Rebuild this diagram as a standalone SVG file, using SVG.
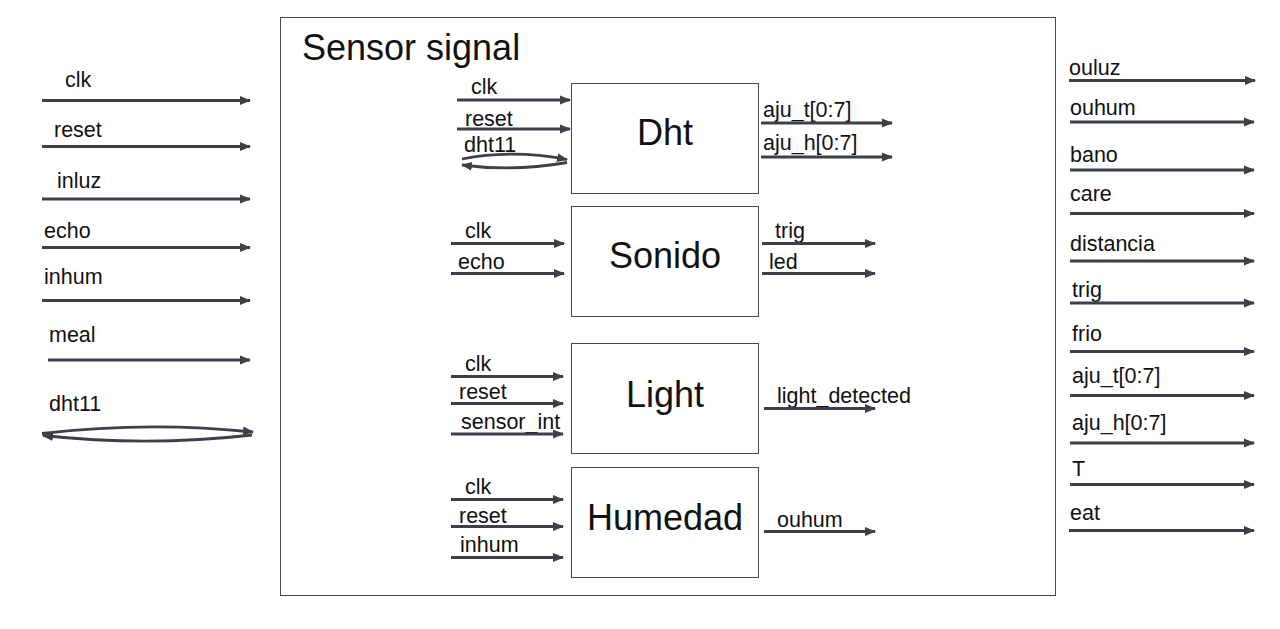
<svg xmlns="http://www.w3.org/2000/svg" width="1280" height="629" viewBox="0 0 1280 629">
<defs>
<marker id="ah" markerUnits="userSpaceOnUse" markerWidth="11" markerHeight="10" refX="10" refY="5" orient="auto">
<path d="M0,0.5 L11,5 L0,9.5 Z" fill="#3b4049"/>
</marker>
<style>
.w{stroke:#3b4049;stroke-width:2.8;fill:none;marker-end:url(#ah)}
.t{font-family:"Liberation Sans",Arial,sans-serif;font-size:21.5px;fill:#111}
.b{fill:#fff;stroke:#4a4a4a;stroke-width:1}
.bt{font-family:"Liberation Sans",Arial,sans-serif;font-size:36px;fill:#111;text-anchor:middle}
</style>
</defs>
<rect width="1280" height="629" fill="#fff"/>
<g id="sensor_signal">
<rect x="280.5" y="17.5" width="775" height="578" class="b"/>
<text x="302" y="60" font-family="Liberation Sans, Arial, sans-serif" font-size="36" fill="#111">Sensor signal</text>
</g>
<g id="dht">
<rect x="571.5" y="83.5" width="187" height="110" class="b"/>
<text x="665" y="145" class="bt">Dht</text>
</g>
<g id="sonido">
<rect x="571.5" y="206.5" width="187" height="110" class="b"/>
<text x="665" y="268" class="bt">Sonido</text>
</g>
<g id="light">
<rect x="571.5" y="343.5" width="187" height="110" class="b"/>
<text x="665" y="407" class="bt">Light</text>
</g>
<g id="humedad">
<rect x="571.5" y="467.5" width="187" height="110" class="b"/>
<text x="665" y="530" class="bt">Humedad</text>
</g>
<g id="labels">
<text x="65" y="87" class="t">clk</text>
<text x="54" y="137" class="t">reset</text>
<text x="57" y="188" class="t">inluz</text>
<text x="44" y="238" class="t">echo</text>
<text x="44" y="284" class="t">inhum</text>
<text x="49" y="342" class="t">meal</text>
<text x="49" y="411" class="t">dht11</text>
<text x="471" y="94" class="t">clk</text>
<text x="465" y="126" class="t">reset</text>
<text x="464" y="152" class="t">dht11</text>
<text x="763" y="117" class="t">aju_t[0:7]</text>
<text x="763" y="150" class="t">aju_h[0:7]</text>
<text x="465" y="238" class="t">clk</text>
<text x="458" y="269" class="t">echo</text>
<text x="775" y="238" class="t">trig</text>
<text x="769" y="269" class="t">led</text>
<text x="465" y="371" class="t">clk</text>
<text x="459" y="399" class="t">reset</text>
<text x="461" y="429" class="t">sensor_int</text>
<text x="777" y="403" class="t">light_detected</text>
<text x="465" y="494" class="t">clk</text>
<text x="459" y="523" class="t">reset</text>
<text x="460" y="552" class="t">inhum</text>
<text x="777" y="527" class="t">ouhum</text>
<text x="1069" y="75" class="t">ouluz</text>
<text x="1070" y="115" class="t">ouhum</text>
<text x="1070" y="162" class="t">bano</text>
<text x="1070" y="201" class="t">care</text>
<text x="1070" y="251" class="t">distancia</text>
<text x="1072" y="297" class="t">trig</text>
<text x="1072" y="341" class="t">frio</text>
<text x="1072" y="383" class="t">aju_t[0:7]</text>
<text x="1072" y="430" class="t">aju_h[0:7]</text>
<text x="1072" y="476" class="t">T</text>
<text x="1070" y="520" class="t">eat</text>
</g>
<g id="connectors">
<path class="w" d="M42,100.5 H250"/>
<path class="w" d="M42,146.5 H250"/>
<path class="w" d="M42,199 H250"/>
<path class="w" d="M42,247.5 H250"/>
<path class="w" d="M42,300.5 H250"/>
<path class="w" d="M48,360 H250"/>
<path class="w" d="M42,433.5 Q148,421 253,432"/>
<path class="w" d="M252,435 Q148,447 43,435.5"/>
<path class="w" d="M457,100 H570"/>
<path class="w" d="M457,129 H570"/>
<path class="w" d="M462,159 Q513,149 567,159.5"/>
<path class="w" d="M567,162.5 Q513,172 462,165"/>
<path class="w" d="M761,123 H892"/>
<path class="w" d="M761,157 H892"/>
<path class="w" d="M451,243.5 H564"/>
<path class="w" d="M451,273.5 H564"/>
<path class="w" d="M762,243.5 H875"/>
<path class="w" d="M762,273.5 H875"/>
<path class="w" d="M451,376.5 H563"/>
<path class="w" d="M451,403.5 H563"/>
<path class="w" d="M451,434 H563"/>
<path class="w" d="M764,408.5 H875"/>
<path class="w" d="M451,499.5 H563"/>
<path class="w" d="M451,526.5 H563"/>
<path class="w" d="M451,557.5 H563"/>
<path class="w" d="M764,531.5 H875"/>
<path class="w" d="M1069,80.5 H1255"/>
<path class="w" d="M1070,122 H1254"/>
<path class="w" d="M1070,170 H1254"/>
<path class="w" d="M1070,213.5 H1254"/>
<path class="w" d="M1070,261 H1254"/>
<path class="w" d="M1070,303 H1254"/>
<path class="w" d="M1070,351.5 H1254"/>
<path class="w" d="M1070,395.5 H1254"/>
<path class="w" d="M1070,443 H1254"/>
<path class="w" d="M1070,484.5 H1254"/>
<path class="w" d="M1069,530.5 H1254"/>
</g>
</svg>
